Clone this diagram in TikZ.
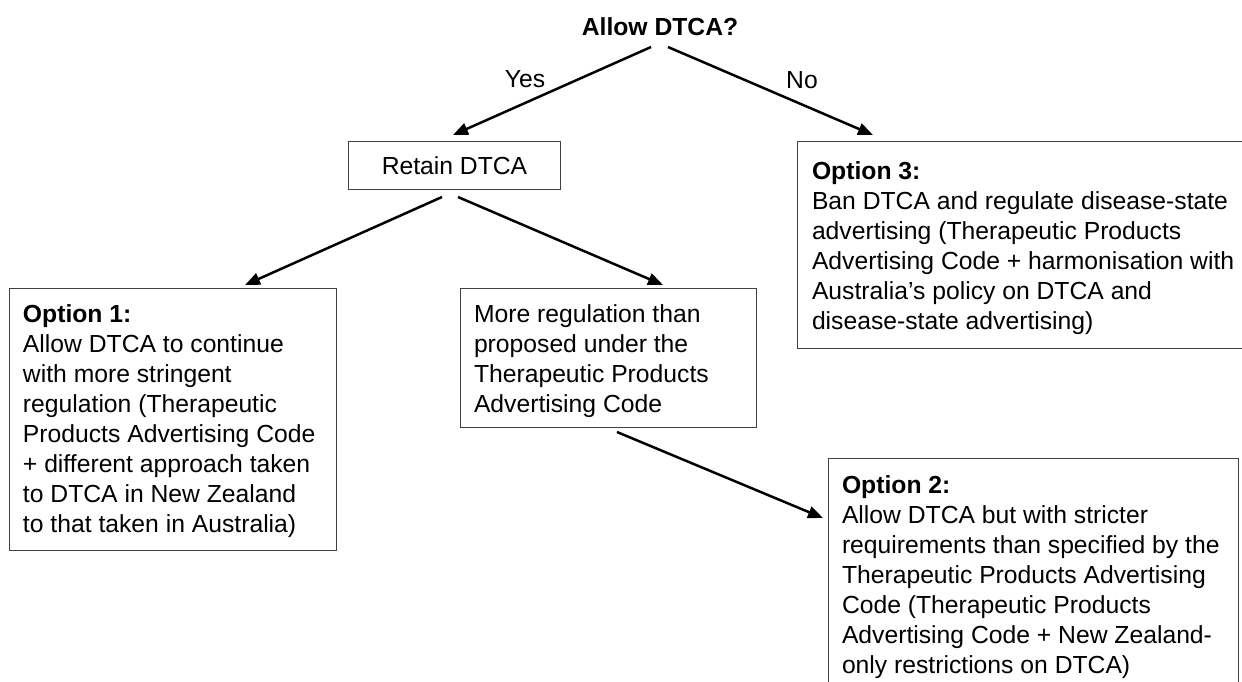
\documentclass[tikz,border=0pt]{standalone}
\usepackage{fontspec}
\setmainfont{Liberation Sans}
\usetikzlibrary{arrows.meta}
\newcommand\boxtxt[3]{\parbox[t][#2][t]{#1}{\raggedright\strut #3}}
\begin{document}
\begin{tikzpicture}[x=1pt,y=-1pt,
  every node/.style={font=\fontsize{24.7pt}{30pt}\selectfont, text=black},
  optbox/.style={draw=black!75, line width=1pt, anchor=north west, inner xsep=14pt, inner ysep=13pt, outer sep=0pt},
  arr/.style={line width=2.5pt, -{Triangle[length=15pt,width=12pt]}},
  lbl/.style={inner sep=0pt}]
\clip (0,0) rectangle (1242,681);
\fill[white] (0,0) rectangle (1242,681);

\node[lbl, font=\fontsize{24.7pt}{30pt}\selectfont\bfseries] (title) at (660,27) {Allow DTCA?};
\node[lbl] (yes) at (525,79) {Yes};
\node[lbl] (no) at (802,80) {No};

\node[draw=black!75, line width=1pt, anchor=north west, minimum width=212pt, minimum height=48pt, inner sep=0pt] (retain) at (348,141) {Retain DTCA};

\node[optbox, minimum width=327pt] (o1) at (9,288)
  {\boxtxt{299pt}{236pt}{\textbf{Option 1:}\\Allow DTCA to continue\\with more stringent\\regulation (Therapeutic\\Products Advertising Code\\+ different approach taken\\to DTCA in New Zealand\\to that taken in Australia)}};

\node[optbox, minimum width=296pt] (mid) at (460,288)
  {\boxtxt{268pt}{113pt}{More regulation than\\proposed under the\\Therapeutic Products\\Advertising Code}};

\node[optbox, minimum width=460pt, inner xsep=15pt, inner ysep=17pt] (o3) at (797,141)
  {\boxtxt{430pt}{173pt}{\textbf{Option 3:}\\Ban DTCA and regulate disease-state\\advertising (Therapeutic Products\\Advertising Code + harmonisation with\\Australia’s policy on DTCA and\\disease-state advertising)}};

\node[optbox, minimum width=410pt, inner ysep=14pt] (o2) at (828,458)
  {\boxtxt{382pt}{212pt}{\textbf{Option 2:}\\Allow DTCA but with stricter\\requirements than specified by the\\Therapeutic Products Advertising\\Code (Therapeutic Products\\Advertising Code + New Zealand-\\only restrictions on DTCA)}};

\draw[arr] ([shift={(-9,20)}]title.center) -- ([shift={(105,-6)}]retain.north west);
\draw[arr] ([shift={(8,20)}]title.center) -- ([shift={(76,-6)}]o3.north west);
\draw[arr] ([shift={(94,7)}]retain.south west) -- ([shift={(236,-3)}]o1.north west);
\draw[arr] ([shift={(110,7)}]retain.south west) -- ([shift={(203,-3)}]mid.north west);
\draw[arr] ([shift={(157,5)}]mid.south west) -- ([shift={(-5,60)}]o2.north west);
\end{tikzpicture}
\end{document}
